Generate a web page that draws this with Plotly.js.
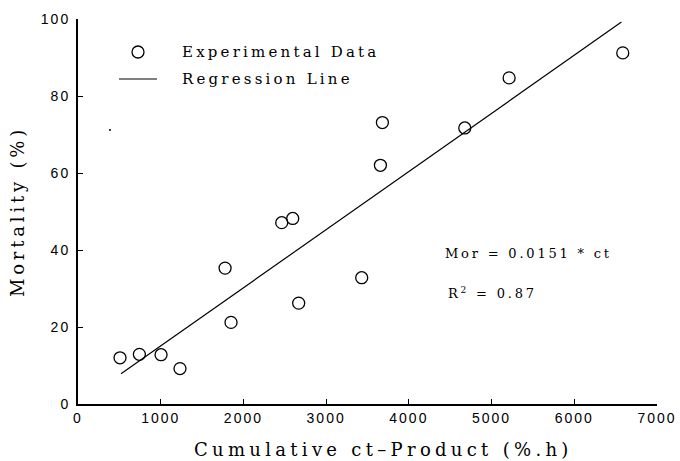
<!DOCTYPE html>
<html><head><meta charset="utf-8">
<script src="https://cdn.plot.ly/plotly-3.0.1.min.js"></script>
<style>
body{margin:0;background:#fff}
.ytitle{letter-spacing:3.8px}
.xtick text,.ytick text{letter-spacing:2px}
</style>
</head><body>
<div id="chart" style="width:680px;height:461px"></div>
<script>
// Data
const ctProduct = [508, 742, 1004, 1233, 1778, 1850, 2463, 2596, 2668, 3430, 3656, 3680, 4676, 5212, 6586];
const mortality = [12.0, 12.9, 12.8, 9.2, 35.3, 21.2, 47.1, 48.2, 26.2, 32.8, 62.0, 73.1, 71.7, 84.7, 91.2];
const regressionX = [520, 6570];
const regressionY = [7.85, 99.2];
const xTicks = [0, 1000, 2000, 3000, 4000, 5000, 6000, 7000];
const yTicks = [0, 20, 40, 60, 80, 100];
const legendNames = ['Experimental Data', 'Regression Line'];
const xTitle = 'Cumulative ct\u2013Product (%.h)';
const yTitle = 'Mortality (%)';

const serif = "DejaVu Serif";
const sans = "Liberation Sans";

const traces = [
  {x: ctProduct, y: mortality, mode: 'markers', type: 'scatter', name: legendNames[0],
   marker: {symbol: 'circle-open', size: 12, color: '#000', line: {width: 1.3, color: '#000'}}},
  {x: regressionX, y: regressionY, mode: 'lines', type: 'scatter', name: legendNames[1],
   line: {color: '#000', width: 1.2}}
];

const L = 78, R = 23, T = 19, B = 57, W = 680, H = 461;
const pw = W - L - R, ph = H - T - B;
const px = v => (v - L) / pw;
const py = v => (H - B - v) / ph;
const sp = (t, s) => '<span style="letter-spacing:' + s + 'px">' + t + '</span>';

const layout = {
  width: W, height: H,
  margin: {l: L, r: R, t: T, b: B},
  paper_bgcolor: '#fff', plot_bgcolor: '#fff',
  showlegend: false,
  xaxis: {range: [0, 7000], tickvals: xTicks, ticktext: xTicks.map(String), showgrid: false, zeroline: false,
          showline: true, linecolor: '#000', linewidth: 2, ticks: 'inside', ticklen: 5, tickcolor: '#000',
          tickfont: {family: sans, size: 14, color: '#000'}},
  yaxis: {range: [0, 100], tickvals: yTicks, ticktext: yTicks.map(String), showgrid: false, zeroline: false,
          showline: true, linecolor: '#000', linewidth: 2, ticks: 'inside', ticklen: 5, tickcolor: '#000',
          ticklabelstandoff: 3,
          tickfont: {family: sans, size: 14, color: '#000'},
          title: {text: yTitle, font: {family: serif, size: 18, color: '#000'}, standoff: 12}},
  shapes: [
    // legend symbols
    {type: 'circle', xref: 'paper', yref: 'paper', xsizemode: 'pixel', ysizemode: 'pixel',
     xanchor: px(138), yanchor: py(52), x0: -6, x1: 6, y0: -6, y1: 6, line: {color: '#000', width: 1.3}},
    {type: 'line', xref: 'paper', yref: 'paper', x0: px(119), x1: px(157), y0: py(79), y1: py(79),
     line: {color: '#000', width: 1.2}},
    // small stray dot in the reference
    {type: 'circle', xref: 'paper', yref: 'paper', xsizemode: 'pixel', ysizemode: 'pixel',
     xanchor: px(110), yanchor: py(130), x0: -1, x1: 1, y0: -1, y1: 1, fillcolor: '#000', line: {width: 0}}
  ],
  annotations: [
    {x: px(180), y: py(52), text: sp(legendNames[0], 3.2), font: {family: serif, size: 15, color: '#000'}},
    {x: px(180), y: py(79), text: sp(legendNames[1], 3.2), font: {family: serif, size: 15, color: '#000'}},
    {x: px(443), y: py(253), text: sp('Mor = 0.0151 * ct', 2.8), font: {family: serif, size: 13, color: '#000'}},
    {x: px(446), y: py(293), text: sp('R<sup>2</sup> = 0.87', 2.8), font: {family: serif, size: 13, color: '#000'}},
    {x: px(192), y: py(449), text: sp(xTitle, 4.3), font: {family: serif, size: 18, color: '#000'}}
  ].map(a => Object.assign({xref: 'paper', yref: 'paper', showarrow: false, xanchor: 'left', yanchor: 'middle'}, a))
};

Plotly.newPlot('chart', traces, layout, {displayModeBar: false, staticPlot: true});
</script>
</body></html>
